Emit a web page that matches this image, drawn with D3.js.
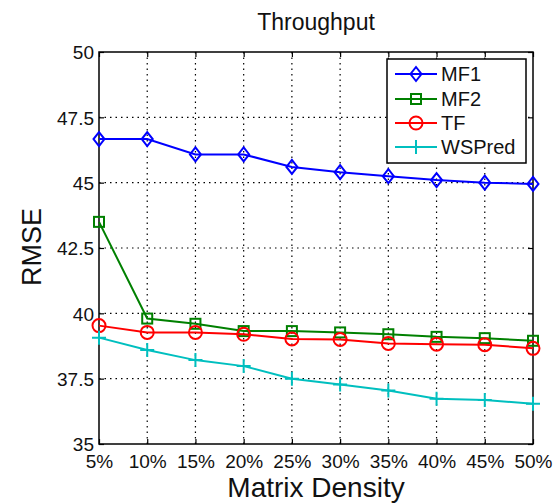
<!DOCTYPE html>
<html><head><meta charset="utf-8">
<script src="https://cdn.jsdelivr.net/npm/d3@7"></script>
<style>body{margin:0;background:#fff}text{font-family:"Liberation Sans",Arial,sans-serif;fill:#111}</style>
</head><body><svg id="c" width="556" height="504"></svg>
<script>
const categories = ["5%","10%","15%","20%","25%","30%","35%","40%","45%","50%"];
const mf1 = [46.67,46.67,46.08,46.08,45.6,45.4,45.25,45.1,45.0,44.95];
const mf2 = [43.5,39.8,39.6,39.32,39.32,39.27,39.2,39.1,39.05,38.95];
const tf = [39.53,39.27,39.27,39.2,39.02,39.0,38.85,38.82,38.8,38.66];
const wspred = [39.07,38.6,38.21,37.98,37.5,37.28,37.05,36.73,36.68,36.54];
const yTicks = [35,37.5,40,42.5,45,47.5,50];
const seriesNames = ["MF1","MF2","TF","WSPred"];
const seriesColors = ["#0000ff","#008000","#ff0000","#00bfbf"];
const seriesMarkers = ["diamond","square","circle","plus"];
const seriesData = [mf1,mf2,tf,wspred];

const svg = d3.select("#c");
const L=99,R=533,T=52,B=444;
const x = d3.scalePoint().domain(categories).range([L,R]);
const y = d3.scaleLinear().domain([35,50]).range([B,T]);

// grid
const g = svg.append("g");
categories.slice(1,-1).forEach(c=>g.append("line").attr("x1",x(c)).attr("x2",x(c)).attr("y1",T).attr("y2",B)
  .attr("stroke","#000").attr("stroke-width",1.2).attr("stroke-dasharray","1.5,4"));
yTicks.slice(1,-1).forEach(v=>g.append("line").attr("x1",L).attr("x2",R).attr("y1",y(v)).attr("y2",y(v))
  .attr("stroke","#000").attr("stroke-width",1.2).attr("stroke-dasharray","1.5,4"));

// axes with inward ticks
const ax = svg.append("g").attr("transform",`translate(0,${B})`).call(d3.axisBottom(x).tickSize(-5).tickPadding(10));
const axT = svg.append("g").attr("transform",`translate(0,${T})`).call(d3.axisTop(x).tickSize(-5).tickFormat(""));
const ay = svg.append("g").attr("transform",`translate(${L},0)`).call(d3.axisLeft(y).tickValues(yTicks).tickSize(-5).tickPadding(5).tickFormat(d=>String(d)));
const ayR = svg.append("g").attr("transform",`translate(${R},0)`).call(d3.axisRight(y).tickValues(yTicks).tickSize(-5).tickFormat(""));
[ax,axT,ay,ayR].forEach(a=>{a.select(".domain").remove();a.selectAll("line").attr("stroke","#000").attr("stroke-width",1.2);});
ax.selectAll("text").attr("font-size",19).attr("fill","#111").attr("dy","0.74em");
ay.selectAll("text").attr("font-size",19).attr("fill","#111").attr("dy","0.36em");
svg.append("rect").attr("x",L).attr("y",T).attr("width",R-L).attr("height",B-T).attr("fill","none").attr("stroke","#000").attr("stroke-width",1.5);

function marker(sel,type,color){
  if(type==="diamond") sel.append("path").attr("d","M0,-7L5.5,0L0,7L-5.5,0Z");
  else if(type==="square") sel.append("rect").attr("x",-5).attr("y",-5).attr("width",10).attr("height",10);
  else if(type==="circle") sel.append("circle").attr("r",6.5);
  else sel.append("path").attr("d","M-7,0H7M0,-7V7");
  sel.selectAll("path,rect,circle").attr("fill","none").attr("stroke",color).attr("stroke-width",2);
}

const line = d3.line().x((d,i)=>x(categories[i])).y(d=>y(d));
seriesData.forEach((s,k)=>{
  svg.append("path").attr("d",line(s)).attr("fill","none").attr("stroke",seriesColors[k]).attr("stroke-width",2);
  s.forEach((v,i)=>marker(svg.append("g").attr("transform",`translate(${x(categories[i])},${y(v)})`),seriesMarkers[k],seriesColors[k]));
});

// legend
const lg = svg.append("g");
lg.append("rect").attr("x",387).attr("y",59).attr("width",139).attr("height",104).attr("fill","#fff").attr("stroke","#000").attr("stroke-width",1.5);
const rowsY=[74,99,123,147];
seriesNames.forEach((n,k)=>{
  lg.append("line").attr("x1",395).attr("x2",437).attr("y1",rowsY[k]).attr("y2",rowsY[k]).attr("stroke",seriesColors[k]).attr("stroke-width",2);
  marker(lg.append("g").attr("transform",`translate(416,${rowsY[k]})`),seriesMarkers[k],seriesColors[k]);
  lg.append("text").attr("x",441).attr("y",rowsY[k]).attr("dy","0.36em").attr("font-size",20).text(n);
});

svg.append("text").attr("x",316).attr("y",30).attr("text-anchor","middle").attr("font-size",23).text("Throughput");
svg.append("text").attr("x",316).attr("y",497).attr("text-anchor","middle").attr("font-size",28).text("Matrix Density");
svg.append("text").attr("transform","translate(41,247) rotate(-90)").attr("text-anchor","middle").attr("font-size",27).text("RMSE");
</script></body></html>
